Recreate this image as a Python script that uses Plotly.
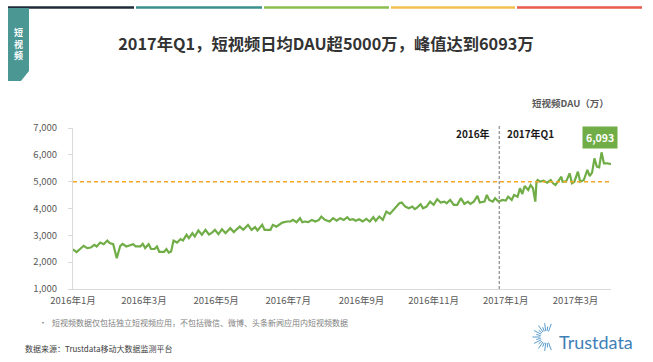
import math
import plotly.graph_objects as go

# ---------------- data ----------------
dates = [
    "2016-01-01", "2016-01-04", "2016-01-07", "2016-01-10", "2016-01-13", "2016-01-16", "2016-01-19",
    "2016-01-21", "2016-01-24", "2016-01-27", "2016-01-30", "2016-02-01", "2016-02-04", "2016-02-07",
    "2016-02-10", "2016-02-12", "2016-02-15", "2016-02-21", "2016-02-23", "2016-02-27", "2016-02-29",
    "2016-03-02", "2016-03-05", "2016-03-07", "2016-03-10", "2016-03-12", "2016-03-14", "2016-03-18",
    "2016-03-20", "2016-03-22", "2016-03-24", "2016-03-26", "2016-03-29", "2016-04-01", "2016-04-03",
    "2016-04-06", "2016-04-08", "2016-04-11", "2016-04-13", "2016-04-16", "2016-04-19", "2016-04-22",
    "2016-04-25", "2016-04-27", "2016-04-30", "2016-05-03", "2016-05-06", "2016-05-09", "2016-05-13",
    "2016-05-16", "2016-05-18", "2016-05-21", "2016-05-24", "2016-05-28", "2016-05-31", "2016-06-03",
    "2016-06-05", "2016-06-09", "2016-06-11", "2016-06-16", "2016-06-18", "2016-06-21", "2016-06-26",
    "2016-06-30", "2016-07-03", "2016-07-05", "2016-07-08", "2016-07-11", "2016-07-13", "2016-07-15",
    "2016-07-18", "2016-07-21", "2016-07-24", "2016-07-27", "2016-07-29", "2016-08-01", "2016-08-05",
    "2016-08-08", "2016-08-11", "2016-08-14", "2016-08-17", "2016-08-20", "2016-08-22", "2016-08-25",
    "2016-08-27", "2016-08-30", "2016-09-02", "2016-09-05", "2016-09-08", "2016-09-11", "2016-09-13",
    "2016-09-16", "2016-09-19", "2016-09-22", "2016-09-25", "2016-09-28", "2016-09-30", "2016-10-03",
    "2016-10-05", "2016-10-08", "2016-10-11", "2016-10-14", "2016-10-16", "2016-10-18", "2016-10-21",
    "2016-10-23", "2016-10-26", "2016-10-29", "2016-11-01", "2016-11-04", "2016-11-07", "2016-11-10",
    "2016-11-12", "2016-11-15", "2016-11-18", "2016-11-21", "2016-11-24", "2016-11-27", "2016-11-30",
    "2016-12-02", "2016-12-05", "2016-12-08", "2016-12-10", "2016-12-14", "2016-12-16", "2016-12-18",
    "2016-12-21", "2016-12-23", "2016-12-26", "2016-12-29", "2017-01-01", "2017-01-03", "2017-01-06",
    "2017-01-08", "2017-01-11", "2017-01-13", "2017-01-15", "2017-01-17", "2017-01-20", "2017-01-22",
    "2017-01-24", "2017-01-26", "2017-01-27", "2017-01-28", "2017-01-30", "2017-02-02", "2017-02-05",
    "2017-02-08", "2017-02-10", "2017-02-12", "2017-02-15", "2017-02-17", "2017-02-18", "2017-02-21",
    "2017-02-24", "2017-02-26", "2017-02-28", "2017-03-03", "2017-03-05", "2017-03-08", "2017-03-11",
    "2017-03-13", "2017-03-15", "2017-03-17", "2017-03-19", "2017-03-21", "2017-03-23", "2017-03-25",
    "2017-03-28", "2017-03-31",
]
dau = [
    2480, 2375, 2490, 2610, 2525, 2545, 2645,
    2585, 2730, 2670, 2805, 2710, 2670, 2150,
    2610, 2685, 2585, 2670, 2585, 2585, 2685,
    2525, 2670, 2490, 2490, 2585, 2385, 2385,
    2490, 2360, 2400, 2805, 2730, 2860, 2805,
    3020, 2895, 3080, 2955, 3180, 3020, 3205,
    3030, 3080, 3205, 3045, 3230, 3080, 3265,
    3120, 3205, 3325, 3205, 3390, 3205, 3305,
    3180, 3390, 3205, 3205, 3390, 3325, 3475,
    3515, 3515, 3575, 3490, 3640, 3490, 3515,
    3490, 3575, 3515, 3575, 3700, 3575, 3515,
    3640, 3550, 3640, 3575, 3675, 3575, 3600,
    3540, 3600, 3515, 3615, 3515, 3675, 3540,
    3700, 3575, 3885, 3800, 3950, 4070, 4195,
    4220, 4070, 4010, 4070, 3975, 4035, 4160,
    4010, 4070, 4255, 4135, 4345, 4220, 4255,
    4195, 4320, 4135, 4135, 4385, 4170, 4255,
    4170, 4255, 4470, 4220, 4255, 4505, 4320,
    4255, 4385, 4255, 4320, 4295, 4440, 4320,
    4505, 4440, 4755, 4540, 4840, 4690, 4875,
    4755, 4255, 5000, 5060, 5000, 5035, 4960,
    5060, 4940, 4875, 5060, 5185, 5000, 5000,
    5310, 4940, 5000, 5370, 5000, 5060, 5435,
    5210, 5335, 5870, 5560, 5535, 6093, 5685,
    5685, 5655,
]
tick_dates = ["2016-01-01", "2016-03-01", "2016-05-01", "2016-07-01",
              "2016-09-01", "2016-11-01", "2017-01-01", "2017-03-01"]
tick_labels = ["2016年1月", "2016年3月", "2016年5月", "2016年7月",
               "2016年9月", "2016年11月", "2017年1月", "2017年3月"]
y_ticks = [1000, 2000, 3000, 4000, 5000, 6000, 7000]
threshold = 5000
split_date = "2016-12-26 12:00"
peak_date = "2017-03-23"
peak_value = 6093

# ---------------- layout geometry ----------------
W, H = 653, 362
L, R, T, B = 73, 611, 128, 289  # plot area in pixels


def px(x):
    return (x - L) / (R - L)


def py(y):
    return (B - y) / (B - T)


CJK = "Noto Sans CJK SC"
fig = go.Figure()

fig.add_trace(go.Scatter(
    x=dates, y=dau, mode="lines",
    line=dict(color="#70ad47", width=2.2),
    hoverinfo="skip", showlegend=False,
))

shapes = []
# threshold dashed line
shapes.append(dict(type="line", xref="paper", yref="y", x0=0, x1=1,
                   y0=threshold, y1=threshold,
                   line=dict(color="#f5a623", width=1.5, dash="4px,3px")))
# vertical split line
shapes.append(dict(type="line", xref="x", yref="paper", x0=split_date, x1=split_date,
                   y0=0, y1=py(125),
                   line=dict(color="#8c8c8c", width=1.2, dash="3px,2px")))
# top colour bars
bar_cols = ["#1e2a38", "#3d8f8c", "#8bbd4f", "#f3c14f", "#e85a4a"]
bar_x = [(8, 134), (136, 262), (264, 389), (391, 515), (517, 642)]
for c, (a, b) in zip(bar_cols, bar_x):
    shapes.append(dict(type="line", xref="paper", yref="paper",
                       x0=px(a), x1=px(b), y0=py(7.5), y1=py(7.5),
                       line=dict(color=c, width=2.6)))
# left tab with chamfered corner
tab = [(8, 8), (29, 8), (29, 71), (21, 81), (8, 81)]
path = "M " + " L ".join(f"{px(x):.4f},{py(y):.4f}" for x, y in tab) + " Z"
shapes.append(dict(type="path", xref="paper", yref="paper", path=path,
                   fillcolor="#4a9794", line=dict(width=0)))
# logo starburst
cx, cy = 546.5, 337
for i in range(17):
    ang = math.radians(70 + i * 220 / 16)
    r0 = 6
    r1 = 14 if i % 2 == 0 else 10.5
    shapes.append(dict(type="line", xref="paper", yref="paper",
                       x0=px(cx + r0 * math.cos(ang)), y0=py(cy - r0 * math.sin(ang)),
                       x1=px(cx + r1 * math.cos(ang)), y1=py(cy - r1 * math.sin(ang)),
                       line=dict(color="#5a9ccc", width=1)))

ann = []
# tab text (vertical)
ann.append(dict(text="短<br>视<br>频", xref="paper", yref="paper", x=px(18.5), y=py(44),
                showarrow=False, align="center",
                font=dict(family=CJK, size=9, color="white", weight="bold"),
                xanchor="center", yanchor="middle"))
# unit label
ann.append(dict(text="短视频DAU（万）", xref="paper", yref="paper", x=1, y=py(103),
                showarrow=False, xanchor="right", yanchor="middle",
                font=dict(family=CJK, size=9.5, color="#595959", weight="bold")))
# period labels
ann.append(dict(text="2016年", xref="x", yref="paper", x=split_date, y=py(133),
                xanchor="right", yanchor="middle", xshift=-7, showarrow=False,
                font=dict(family=CJK, size=10, color="#1a1a1a", weight="bold")))
ann.append(dict(text="2017年Q1", xref="x", yref="paper", x=split_date, y=py(133),
                xanchor="left", yanchor="middle", xshift=6, showarrow=False,
                font=dict(family=CJK, size=10, color="#1a1a1a", weight="bold")))
# peak label
ann.append(dict(text=f"{peak_value:,}", xref="x", yref="y", x=peak_date, y=peak_value,
                xanchor="center", yanchor="bottom", yshift=3, xshift=-2, showarrow=False,
                bgcolor="#70ad47", borderpad=3,
                font=dict(family=CJK, size=10.5, color="white", weight="bold")))
# footnotes
ann.append(dict(text="•", xref="paper", yref="paper", x=px(37), y=py(322),
                xanchor="left", yanchor="middle", showarrow=False,
                font=dict(family=CJK, size=8, color="#7f7f7f")))
ann.append(dict(text="短视频数据仅包括独立短视频应用，不包括微信、微博、头条新闻应用内短视频数据",
                xref="paper", yref="paper", x=px(50), y=py(322),
                xanchor="left", yanchor="middle", showarrow=False,
                font=dict(family=CJK, size=8, color="#7f7f7f")))
ann.append(dict(text="数据来源：Trustdata移动大数据监测平台",
                xref="paper", yref="paper", x=px(23), y=py(348),
                xanchor="left", yanchor="middle", showarrow=False,
                font=dict(family=CJK, size=8, color="#404040")))
ann.append(dict(text="Trustdata", xref="paper", yref="paper", x=px(557), y=py(342),
                xanchor="left", yanchor="middle", showarrow=False,
                font=dict(family="Lato", size=18, color="#3f7fb7")))

fig.update_layout(
    width=W, height=H,
    margin=dict(l=L, r=W - R, t=T, b=H - B, pad=0),
    paper_bgcolor="white", plot_bgcolor="white",
    title=dict(text="2017年Q1，短视频日均DAU超5000万，峰值达到6093万",
               x=326 / W, xref="container", xanchor="center",
               y=1 - 44 / H, yref="container", yanchor="middle",
               font=dict(family=CJK, size=16.3, color="#333333", weight="bold")),
    xaxis=dict(type="date", range=[dates[0], dates[-1]],
               tickvals=tick_dates, ticktext=tick_labels,
               showgrid=False, zeroline=False, showline=True,
               linecolor="#d9d9d9", linewidth=1, ticks="", ticklabelstandoff=3,
               tickfont=dict(family=CJK, size=9.5, color="#595959")),
    yaxis=dict(range=[1000, 7000], tickvals=y_ticks, tickformat=",",
               showgrid=False, zeroline=False, showline=True,
               linecolor="#d9d9d9", linewidth=1, ticks="outside", ticklen=4,
               tickcolor="#d9d9d9", ticklabelstandoff=9,
               tickfont=dict(family=CJK, size=9.5, color="#595959")),
    shapes=shapes, annotations=ann,
    showlegend=False,
)

fig.write_html("out.html",
               config={"displayModeBar": False},
               post_script="document.body.style.margin='0';document.body.style.padding='0';")
